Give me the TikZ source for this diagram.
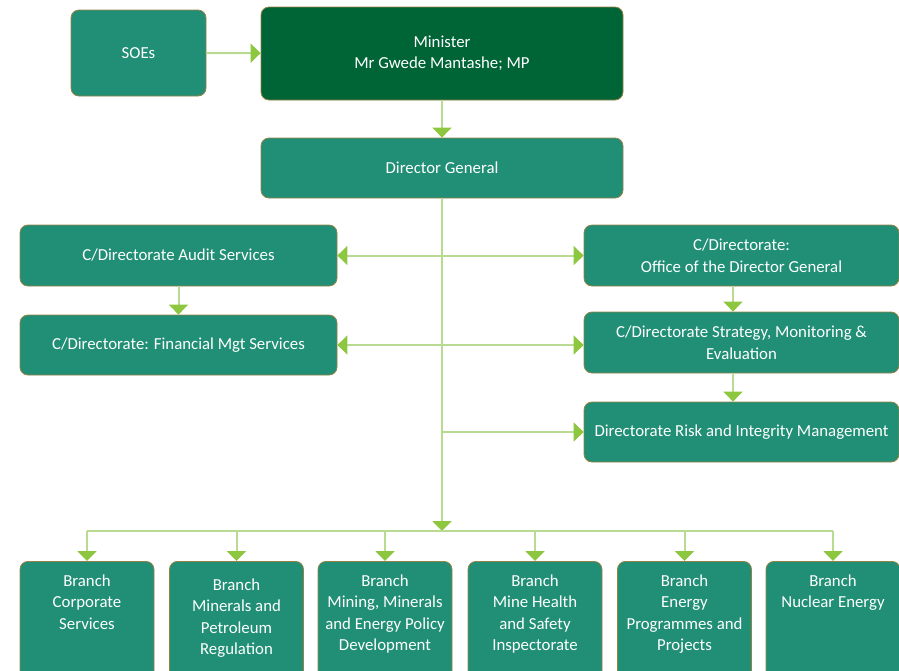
\documentclass[tikz,border=0pt]{standalone}
\usepackage{fontspec}
\setmainfont{Carlito}
\usetikzlibrary{arrows.meta}

\definecolor{boxgreen}{RGB}{32,143,117}
\definecolor{mingreen}{RGB}{0,101,54}
\definecolor{boxedge}{RGB}{150,130,70}
\definecolor{linegreen}{RGB}{184,219,145}
\definecolor{tipgreen}{RGB}{141,198,63}

\newcommand{\branchtext}[1]{\parbox[t][100pt][t]{132pt}{\centering #1}}

\tikzset{
  orgbox/.style={draw=boxedge, line width=0.8pt, fill=boxgreen, rounded corners=8pt,
    text=white, align=center, inner sep=0pt, font=\fontsize{16.8}{21.5}\selectfont},
  branchbox/.style={orgbox, anchor=north, minimum width=134pt, inner xsep=1pt, inner ysep=13pt},
  wire/.style={draw=linegreen, line width=2pt},
  link/.style={wire, -{Triangle[width=19pt,length=10pt,color=tipgreen]}},
  twolink/.style={wire, {Triangle[width=19pt,length=10pt,color=tipgreen]}-{Triangle[width=19pt,length=10pt,color=tipgreen]}}
}

\begin{document}
\begin{tikzpicture}[x=1pt,y=-1pt]
  \useasboundingbox (0,0) rectangle (899,670);
  \clip (0,0) rectangle (899,670);
  % top
  \node[orgbox, minimum width=135pt, minimum height=86pt] (SOE) at (138.5,53) {SOEs};
  \node[orgbox, fill=mingreen, minimum width=362pt, minimum height=93pt] (Minister) at (442,53.5)
    {Minister\\Mr Gwede Mantashe; MP};
  \node[orgbox, minimum width=362pt, minimum height=60pt] (DG) at (442,168) {Director General};
  % chief directorates
  \node[orgbox, minimum width=317pt, minimum height=61pt] (Audit) at (178.5,255.5)
    {C/Directorate Audit Services};
  \node[orgbox, minimum width=317pt, minimum height=60pt] (Finance) at (178.5,345)
    {C/Directorate: Financial Mgt Services};
  \node[orgbox, minimum width=315pt, minimum height=61pt] (Office) at (741.5,255.5)
    {C/Directorate:\\Office of the Director General};
  \node[orgbox, minimum width=315pt, minimum height=61pt] (Strategy) at (741.5,342.5)
    {C/Directorate Strategy, Monitoring \&\\Evaluation};
  \node[orgbox, minimum width=315pt, minimum height=60pt] (Risk) at (741.5,432)
    {Directorate Risk and Integrity Management};
  % branches
  \node[branchbox] (Corporate) at (87,561) {\branchtext{Branch\\Corporate\\Services}};
  \node[branchbox] (Regulation) at (236.5,561) {\branchtext{\vspace*{4pt}Branch\\Minerals and\\Petroleum\\Regulation}};
  \node[branchbox] (Policy) at (385,561) {\branchtext{Branch\\Mining, Minerals\\and Energy Policy\\Development}};
  \node[branchbox] (Inspectorate) at (535,561) {\branchtext{Branch\\Mine Health\\and Safety\\Inspectorate}};
  \node[branchbox] (Programmes) at (684.5,561) {\branchtext{Branch\\Energy\\Programmes and\\Projects}};
  \node[branchbox] (Nuclear) at (833,561) {\branchtext{Branch\\Nuclear Energy}};

  \coordinate (bus) at (442,531);
  \coordinate (rcol) at (733,0);

  \draw[link] (SOE) -- (Minister);
  \draw[link] (Minister) -- (DG);
  \draw[link] (DG) -- (bus);
  \draw[twolink] (Audit.east) -- (Office.west);
  \draw[twolink] (Finance.east) -- (Finance.east -| Strategy.west);
  \draw[link] (Risk.west -| DG.south) -- (Risk.west);
  \draw[link] (Audit) -- (Finance);
  \draw[link] (Office.south -| rcol) -- (Strategy.north -| rcol);
  \draw[link] (Strategy.south -| rcol) -- (Risk.north -| rcol);
  \draw[wire] (Corporate.north |- bus) -- (Nuclear.north |- bus);
  \draw[link] (Corporate.north |- bus) -- (Corporate.north);
  \draw[link] (Regulation.north |- bus) -- (Regulation.north);
  \draw[link] (Policy.north |- bus) -- (Policy.north);
  \draw[link] (Inspectorate.north |- bus) -- (Inspectorate.north);
  \draw[link] (Programmes.north |- bus) -- (Programmes.north);
  \draw[link] (Nuclear.north |- bus) -- (Nuclear.north);
\end{tikzpicture}
\end{document}
